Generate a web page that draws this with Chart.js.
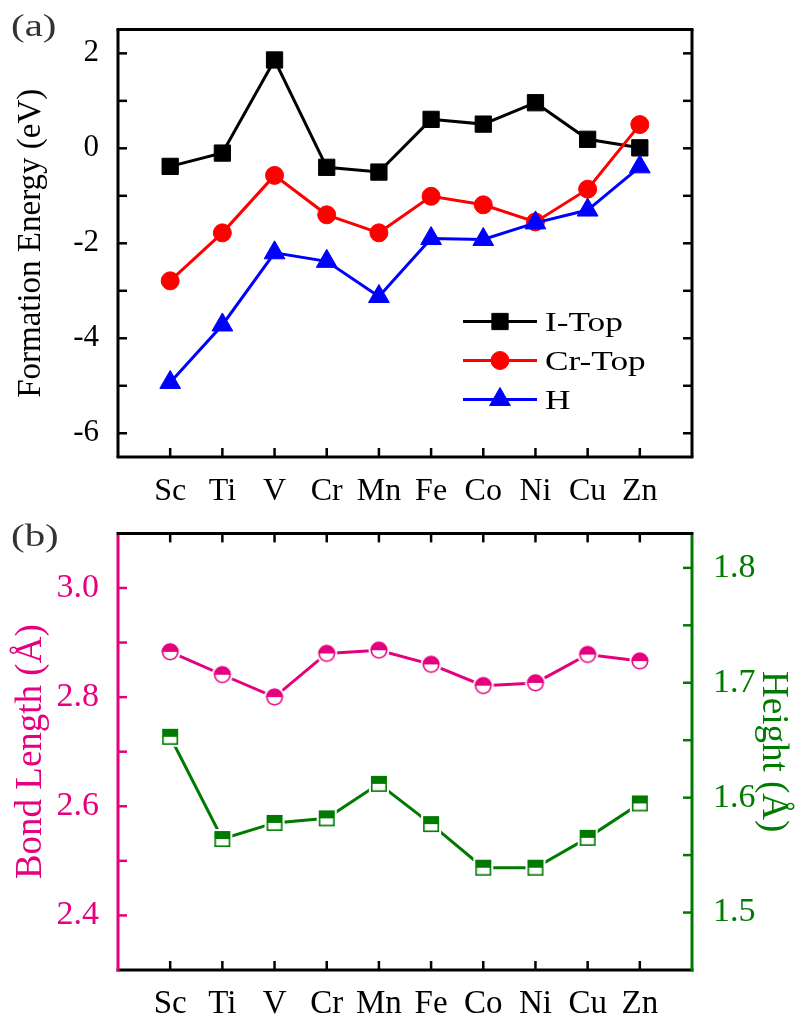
<!DOCTYPE html>
<html>
<head>
<meta charset="utf-8">
<script src="https://cdn.jsdelivr.net/npm/chart.js@4.4.1/dist/chart.umd.min.js"></script>
<style>
html,body{margin:0;padding:0;background:#fff;}
#p1{position:absolute;left:0;top:0;width:795px;height:500px;}
#p2{position:absolute;left:0;top:500px;width:795px;height:519px;}
#fontprobe{position:absolute;left:-1000px;top:-1000px;font-family:"Liberation Serif";font-size:30px;}
</style>
</head>
<body>
<div id="fontprobe">Sc Ti Å (a)</div>
<div id="p1"><canvas id="c1"></canvas></div>
<div id="p2"><canvas id="c2"></canvas></div>
<script>
// ---------- data ----------
const categories = ['Sc','Ti','V','Cr','Mn','Fe','Co','Ni','Cu','Zn'];
const iTop  = [-0.38, -0.10, 1.86, -0.40, -0.50, 0.61, 0.51, 0.96, 0.19, 0.01];
const crTop = [-2.79, -1.78, -0.57, -1.40, -1.78, -1.01, -1.19, -1.55, -0.86, 0.50];
const hSite = [-4.93, -3.72, -2.20, -2.38, -3.12, -1.90, -1.92, -1.57, -1.30, -0.39];
const bondLength = [2.883, 2.841, 2.800, 2.880, 2.886, 2.860, 2.821, 2.826, 2.878, 2.866];
const heightVals = [1.653, 1.564, 1.578, 1.582, 1.612, 1.577, 1.539, 1.539, 1.565, 1.595];
const energyTicks = [-6,-5,-4,-3,-2,-1,0,1,2];
const energyLabels = [-6,-4,-2,0,2];
const bondTicks = [2.4,2.5,2.6,2.7,2.8,2.9,3.0];
const bondLabels = [2.4,2.6,2.8,3.0];
const heightTicks = [1.5,1.55,1.6,1.65,1.7,1.75,1.8];
const heightLabels = [1.5,1.6,1.7,1.8];

const FONT = '"Liberation Serif", "Times New Roman", Times, serif';
const PINK = '#e6007e';
const GREEN = '#007a00';
const TL = 9;

function pts(arr){ return arr.map((v,i)=>({x:i,y:v})); }
function near(v, list){ return list.some(t=>Math.abs(t-v)<1e-6); }
function seg(ctx,x1,y1,x2,y2,c,w){ctx.strokeStyle=c;ctx.lineWidth=w;ctx.beginPath();ctx.moveTo(x1,y1);ctx.lineTo(x2,y2);ctx.stroke();}

function halfCircleMarker(color, r, halo){
  const s = 2*Math.ceil(r+halo+1);
  const c = document.createElement('canvas'); c.width=s; c.height=s;
  const g = c.getContext('2d'); const m=s/2;
  g.fillStyle='#fff'; g.beginPath(); g.arc(m,m,r+halo,0,Math.PI*2); g.fill();
  g.fillStyle=color; g.beginPath(); g.arc(m,m,r,Math.PI,Math.PI*2); g.closePath(); g.fill();
  g.strokeStyle=color; g.lineWidth=1.6; g.beginPath(); g.arc(m,m,r-0.8,0,Math.PI*2); g.stroke();
  return c;
}
function halfSquareMarker(color, h, halo){
  const s = 2*Math.ceil(h+halo+1);
  const c = document.createElement('canvas'); c.width=s; c.height=s;
  const g = c.getContext('2d'); const m=s/2;
  g.fillStyle='#fff'; g.fillRect(m-h-halo, m-h-halo, 2*(h+halo), 2*(h+halo));
  g.fillStyle=color; g.fillRect(m-h, m-h, 2*h, h);
  g.strokeStyle=color; g.lineWidth=1.6; g.strokeRect(m-h+0.8, m-h+0.8, 2*h-1.6, 2*h-1.6);
  return c;
}

function catTicks(scale){ scale.ticks = categories.map((c,i)=>({value:i})); }
function catLabel(v){ return categories[v] !== undefined ? categories[v] : ''; }

function build(){
// ---------- panel (a) ----------
const frameA = {
  id:'frameA',
  afterDatasetsDraw(chart){
    const {ctx, chartArea:{left,right,top,bottom}, scales:{x,y}} = chart;
    ctx.save();
    ctx.lineCap='butt';
    categories.forEach((c,i)=>{ const px=x.getPixelForValue(i); seg(ctx,px,bottom,px,bottom-TL,'#000',2.5); });
    energyTicks.forEach(t=>{ const py=y.getPixelForValue(t);
      seg(ctx,left,py,left+TL,py,'#000',2.5); seg(ctx,right,py,right-TL,py,'#000',2.5); });
    seg(ctx,left-1.5,top,right+1.5,top,'#000',3);
    seg(ctx,left-1.5,bottom,right+1.5,bottom,'#000',3);
    seg(ctx,left,top,left,bottom,'#000',3);
    seg(ctx,right,top,right,bottom,'#000',3);
    ctx.restore();
  },
  afterDraw(chart){
    const ctx = chart.ctx;
    ctx.save();
    ctx.fillStyle='#333'; ctx.font='32px '+FONT; ctx.textBaseline='alphabetic';
    ctx.translate(11,36); ctx.scale(1.28,1); ctx.fillText('(a)',0,0);
    ctx.restore();
    const rows = [321.5, 360.5, 399.5];
    chart.data.datasets.slice().sort((a,b)=>a.legendIndex-b.legendIndex).forEach((ds,k)=>{
      const yy = rows[k];
      ctx.save();
      seg(ctx,463,yy,537,yy,ds.borderColor,3);
      ctx.fillStyle=ds.pointBackgroundColor; ctx.strokeStyle=ds.pointBorderColor; ctx.lineWidth=1;
      Chart.helpers.drawPoint(ctx,{pointStyle:ds.pointStyle,radius:ds.pointRadius,rotation:0,borderWidth:1},500,yy);
      ctx.fillStyle='#000'; ctx.font='28px '+FONT; ctx.textBaseline='alphabetic';
      ctx.translate(545, yy+9.5); ctx.scale(1.26,1); ctx.fillText(ds.label,0,0);
      ctx.restore();
    });
  }
};

new Chart(document.getElementById('c1'), {
  type:'line',
  data:{ datasets:[
    {label:'I-Top', legendIndex:0, order:2, data:pts(iTop), borderColor:'#000', backgroundColor:'#000',
     pointBackgroundColor:'#000', pointBorderColor:'#000', pointStyle:'rect', pointRadius:11.5, pointBorderWidth:1, borderWidth:3},
    {label:'Cr-Top', legendIndex:1, order:1, data:pts(crTop), borderColor:'#f00', backgroundColor:'#f00',
     pointBackgroundColor:'#f00', pointBorderColor:'#f00', pointStyle:'circle', pointRadius:9, pointBorderWidth:1, borderWidth:3},
    {label:'H', legendIndex:2, order:0, data:pts(hSite), borderColor:'#00f', backgroundColor:'#00f',
     pointBackgroundColor:'#00f', pointBorderColor:'#00f', pointStyle:'triangle', pointRadius:12, pointBorderWidth:1, borderWidth:3}
  ]},
  options:{
    responsive:true, maintainAspectRatio:false, animation:false,
    layout:{padding:{left:0,right:103,top:17,bottom:0}},
    plugins:{legend:{display:false}, tooltip:{enabled:false}},
    elements:{line:{tension:0}},
    scales:{
      x:{type:'linear', min:-1, max:10, afterFit(s){s.height=43;}, afterBuildTicks:catTicks,
         grid:{display:false}, border:{display:false},
         ticks:{callback:catLabel, font:{family:FONT,size:32}, color:'#000', padding:7, maxRotation:0, autoSkip:false}},
      y:{type:'linear', min:-6.5, max:2.5, afterFit(s){s.width=118;},
         afterBuildTicks(s){ s.ticks = energyTicks.map(v=>({value:v})); },
         grid:{display:false}, border:{display:false},
         ticks:{callback:v=>near(v,energyLabels)?String(v):'', font:{family:FONT,size:31}, color:'#000', padding:11},
         title:{display:true, text:'Formation Energy (eV)', font:{family:FONT,size:33}, color:'#000', padding:{top:12,bottom:0}}}
    }
  },
  plugins:[frameA]
});

// ---------- panel (b) ----------
const frameB = {
  id:'frameB',
  afterDatasetsDraw(chart){
    const {ctx, chartArea:{left,right,top,bottom}, scales:{x,y,y2}} = chart;
    ctx.save();
    ctx.lineCap='butt';
    categories.forEach((c,i)=>{ const px=x.getPixelForValue(i);
      seg(ctx,px,bottom,px,bottom-TL,'#000',2.5); seg(ctx,px,top,px,top+TL,'#000',2.5); });
    bondTicks.forEach(t=>{ const py=y.getPixelForValue(t); seg(ctx,left,py,left+TL,py,PINK,2.5); });
    heightTicks.forEach(t=>{ const py=y2.getPixelForValue(t); seg(ctx,right,py,right-TL,py,GREEN,2.5); });
    seg(ctx,left-1.5,top,right+1.5,top,'#000',3);
    seg(ctx,left-1.5,bottom,right+1.5,bottom,'#000',3);
    seg(ctx,left,top+1.5,left,bottom+1.5,PINK,3);
    seg(ctx,right,top+1.5,right,bottom+1.5,GREEN,3);
    ctx.restore();
  },
  afterDraw(chart){
    const ctx = chart.ctx;
    ctx.save();
    ctx.fillStyle='#333'; ctx.font='32px '+FONT; ctx.textBaseline='alphabetic';
    ctx.translate(11,46); ctx.scale(1.28,1); ctx.fillText('(b)',0,0);
    ctx.restore();
  }
};

new Chart(document.getElementById('c2'), {
  type:'line',
  data:{ datasets:[
    {label:'Bond Length', yAxisID:'y', data:pts(bondLength), borderColor:PINK, borderWidth:3,
     pointStyle:halfCircleMarker(PINK,8.5,2), pointRadius:9},
    {label:'Height', yAxisID:'y2', data:pts(heightVals), borderColor:GREEN, borderWidth:3,
     pointStyle:halfSquareMarker(GREEN,8,2), pointRadius:9}
  ]},
  options:{
    responsive:true, maintainAspectRatio:false, animation:false,
    layout:{padding:{left:0,right:0,top:32,bottom:0}},
    plugins:{legend:{display:false}, tooltip:{enabled:false}},
    elements:{line:{tension:0}},
    scales:{
      x:{type:'linear', min:-1, max:10, afterFit(s){s.height=49;}, afterBuildTicks:catTicks,
         grid:{display:false}, border:{display:false},
         ticks:{callback:catLabel, font:{family:FONT,size:33}, color:'#000', padding:7, maxRotation:0, autoSkip:false}},
      y:{type:'linear', position:'left', min:2.3, max:3.1, afterFit(s){s.width=118;},
         afterBuildTicks(s){ s.ticks = bondTicks.map(v=>({value:v})); },
         grid:{display:false}, border:{display:false},
         ticks:{callback:v=>near(v,bondLabels)?v.toFixed(1):'', font:{family:FONT,size:34}, color:PINK, padding:11},
         title:{display:true, text:'Bond Length (Å)', font:{family:FONT,size:37}, color:PINK, padding:{top:9,bottom:0}}},
      y2:{type:'linear', position:'right', min:1.45, max:1.83, afterFit(s){s.width=103;},
         afterBuildTicks(s){ s.ticks = heightTicks.map(v=>({value:v})); },
         grid:{display:false}, border:{display:false},
         ticks:{callback:v=>near(v,heightLabels)?v.toFixed(1):'', font:{family:FONT,size:34}, color:GREEN, padding:13},
         title:{display:true, text:'Height (Å)', font:{family:FONT,size:37}, color:GREEN, padding:{top:0,bottom:0}}}
    }
  },
  plugins:[frameB]
});
}

if (document.fonts && document.fonts.load) {
  Promise.all([document.fonts.load('32px "Liberation Serif"'), document.fonts.load('32px "Liberation Serif"', 'ÅSc')])
    .catch(()=>{}).then(()=>build());
} else { build(); }
</script>
</body>
</html>
